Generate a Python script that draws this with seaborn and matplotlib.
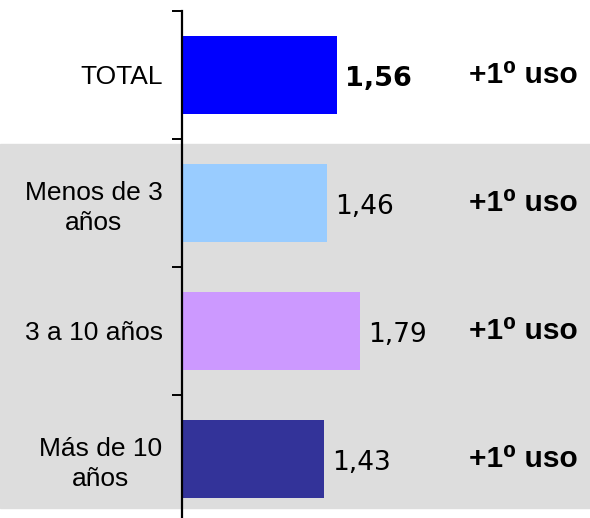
import matplotlib
matplotlib.use("Agg")
import matplotlib.pyplot as plt
import seaborn as sns
from matplotlib.patches import Rectangle

# data
categories = ["TOTAL", "Menos de 3\naños", "3 a 10 años", "Más de 10\naños"]
values = [1.56, 1.46, 1.79, 1.43]
value_labels = ["1,56", "1,46", "1,79", "1,43"]
colors = ["#0000FF", "#99CCFF", "#CC99FF", "#333399"]
side_note = "+1\u2070 uso"

sns.set_style("white")
plt.rcParams['font.family'] = ['Liberation Sans', 'DejaVu Sans']
plt.rcParams['text.color'] = 'black'
plt.rcParams['ytick.color'] = 'black'

fig = plt.figure(figsize=(5.9, 5.18), dpi=100)

ax = fig.add_axes([182/590, 1 - 523/518, 1 - 182/590, (523 - 10.7)/518])
ax.patch.set_visible(False)

# grey band behind the three age groups
ax.add_patch(Rectangle((0, 1 - 508/518), 1, (508 - 144)/518,
                       transform=fig.transFigure, color="#DDDDDD",
                       zorder=-5, clip_on=False))

sns.barplot(x=values, y=categories, hue=categories, palette=colors,
            width=0.61, legend=False, ax=ax, saturation=1, orient="h",
            linewidth=0)

ax.set_xlim(0, 408/99.4)
ax.set_ylim(3.5, -0.5)
ax.set_xlabel("")
ax.set_ylabel("")

for s in ["top", "right", "bottom"]:
    ax.spines[s].set_visible(False)
ax.spines["left"].set_linewidth(1.6)
ax.spines["left"].set_color("black")
ax.spines["left"].set_zorder(3)
ax.set_xticks([])

ax.set_yticks(range(4))
ax.set_yticklabels(categories, fontsize=19, multialignment="center",
                   color="black", linespacing=1.3)
ax.tick_params(axis="y", which="major", length=0, pad=14)
ax.set_yticks([-0.5, 0.5, 1.5, 2.5, 3.5], minor=True)
ax.tick_params(axis="y", which="minor", left=True, length=7, width=1.4, color="black")

for i, (v, lab) in enumerate(zip(values, value_labels)):
    ax.text(v + 0.08, i + 0.03, lab, va="center", ha="left",
            fontsize=19.5 if i == 0 else 19, family="DejaVu Sans",
            fontweight="bold" if i == 0 else "normal")
    ax.text((578 - 182)/99.4, i, side_note, va="center", ha="right",
            fontsize=21.5, fontweight="bold")

fig.savefig("out.png", dpi=100)
